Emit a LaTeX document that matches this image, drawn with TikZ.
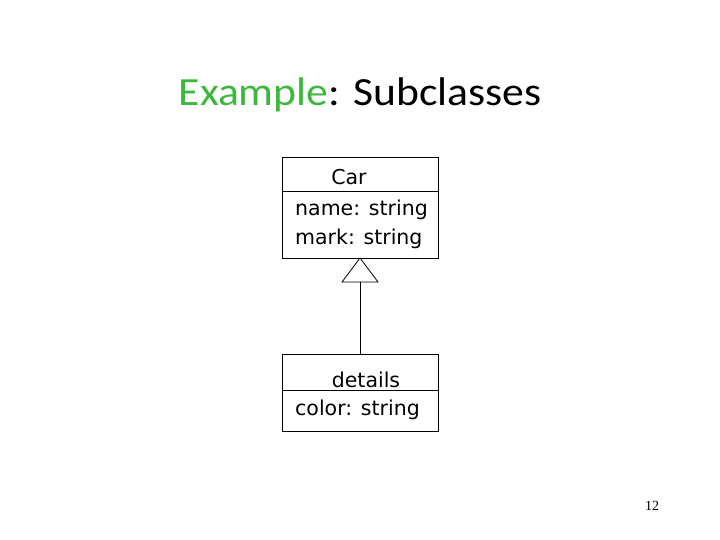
\documentclass[tikz,border=0pt]{standalone}
\usepackage{fontspec}
\setmainfont{Carlito}
\newfontfamily\boxfont{DejaVu Sans}
\newfontfamily\numfont{Liberation Serif}
\definecolor{titlegreen}{RGB}{60,185,60}
\begin{document}
\begin{tikzpicture}[x=1pt,y=-1pt,
  box/.style={draw=black,line width=0.8pt},
  boxtext/.style={font=\boxfont\fontsize{20.5}{24}\selectfont,inner sep=0pt,anchor=base west},
  conn/.style={draw=black,line width=0.8pt}]
\useasboundingbox (0,0) rectangle (720,540);
\node[font=\fontsize{40}{48}\selectfont,anchor=base,inner sep=0pt] (title) at (360,106) {\scalebox{1.09}[1]{\textcolor{titlegreen}{Example}: Subclasses}};
% Car box
\draw[box] (282,157) rectangle (438,258);
\draw[box] (282,191) -- (438,191);
\node[boxtext,anchor=base] (car) at (349,185) {Car};
\node[boxtext] (name) at (295,215) {name: string};
\node[boxtext] (mark) at (295,244) {mark: string};
\coordinate (apex) at (360,258);
% details box
\draw[box] (282,354) rectangle (438,431);
\draw[box] (282,390) -- (438,390);
\node[boxtext,anchor=base] (det) at (366,387) {details};
\node[boxtext] (col) at (295,415) {color: string};
\coordinate (top2) at (360,354);
% generalization
\draw[conn] (apex) -- (342,282) -- (378,282) -- cycle;
\draw[conn] (360,282) -- (top2);
\node[font=\numfont\fontsize{14}{16}\selectfont,anchor=base] (num) at (652,510) {12};
\end{tikzpicture}
\end{document}
